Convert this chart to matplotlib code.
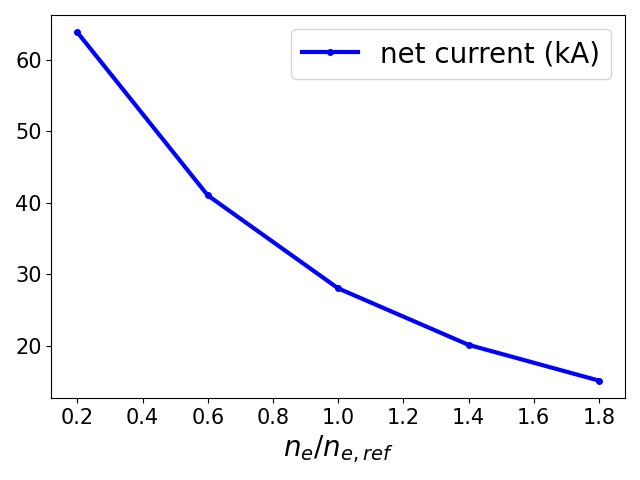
import matplotlib
matplotlib.use('Agg')
import matplotlib.pyplot as plt

# density scan
density = [0.2, 0.6, 1.0, 1.4, 1.8]
net_current = [63.8, 41.0, 28.0, 20.1, 15.1]

fig, ax = plt.subplots(figsize=(6.4, 4.8), dpi=100)
ax.plot(density, net_current, color='blue', linewidth=3, marker='o',
        markersize=4, label='net current (kA)')

ax.set_xlabel(r'$n_e/n_{e,ref}$', fontsize=20)
ax.tick_params(axis='both', labelsize=15)
ax.legend(fontsize=20)

fig.tight_layout()
fig.savefig('out.png')
